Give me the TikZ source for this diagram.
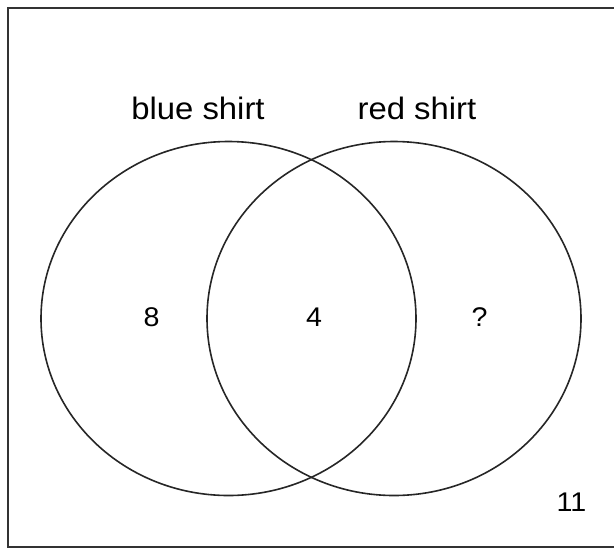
\documentclass[tikz,border=0pt]{standalone}
\usepackage{fontspec}
\setmainfont{Liberation Sans}
\usetikzlibrary{shapes.geometric}
\tikzset{
  setline/.style={line width=1.6pt, draw=black!85},
  frameline/.style={line width=2pt, draw=black!80},
  lbl/.style={font=\fontsize{31}{36}\selectfont, inner sep=0pt, anchor=base, xscale=1.06},
  num/.style={font=\fontsize{27}{32}\selectfont, inner sep=0pt, xscale=1.06},
}
\begin{document}
\begin{tikzpicture}[x=1pt,y=-1pt]
\useasboundingbox (0,0) rectangle (614,550);
\begin{scope}
\clip (0,0) rectangle (614,550);
\draw[frameline] (8,7.5) rectangle (630,547);
\end{scope}
\draw[setline] (228.5,318.5) ellipse [x radius=187.5, y radius=177];
\draw[setline] (394,318.5) ellipse [x radius=187, y radius=177];
\node[lbl] (blue) at (198,119) {blue shirt};
\node[lbl] (red) at (417,119) {red shirt};
\node[num] (a) at (151.5,317) {8};
\node[num] (b) at (314,317) {4};
\node[num] (c) at (479.5,317) {?};
\node[num] (d) at (571.5,502.5) {11};
\end{tikzpicture}
\end{document}
